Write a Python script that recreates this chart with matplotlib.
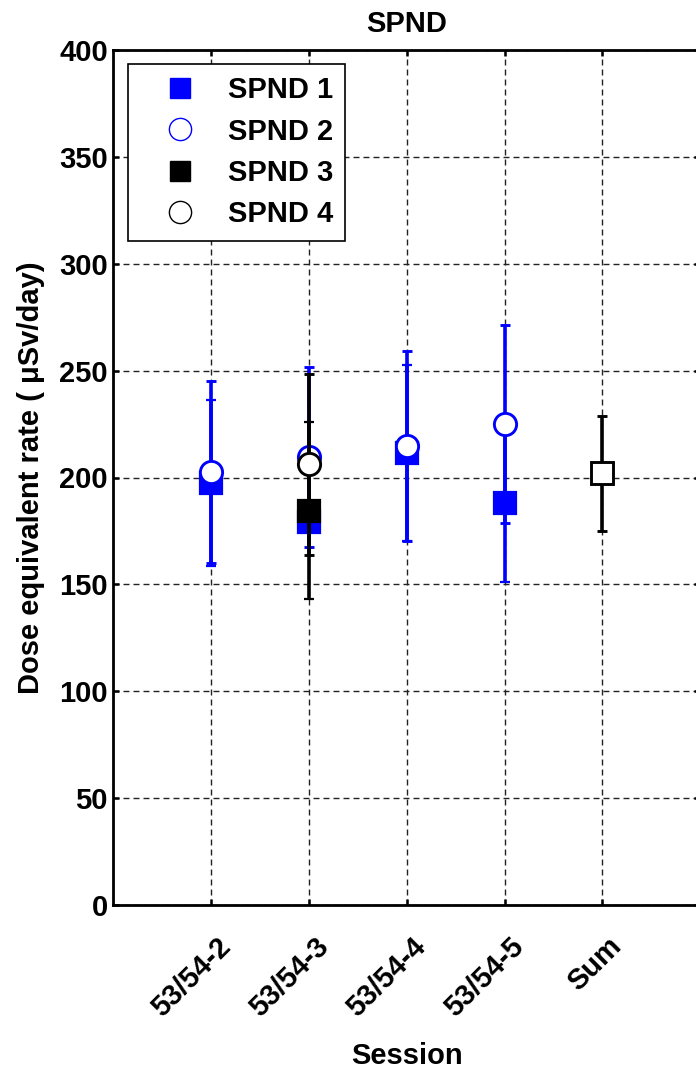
import matplotlib
matplotlib.use("Agg")
import matplotlib.pyplot as plt
from matplotlib.lines import Line2D
from matplotlib.transforms import ScaledTranslation

plt.rcParams['font.family'] = ['Liberation Sans', 'DejaVu Sans']
plt.rcParams['font.weight'] = 'bold'

sessions = ['53/54-2', '53/54-3', '53/54-4', '53/54-5', 'Sum']
x_pos = [1, 2, 3, 4, 5]

spnd1_x = [1, 2, 3, 4]
spnd1_val = [197.5, 179, 211.5, 188]
spnd1_err = [39, 4, 41, 37]

spnd2_x = [1, 2, 3, 4]
spnd2_val = [202.5, 209.5, 214.7, 225]
spnd2_err = [42.5, 42, 44.3, 46.5]

spnd3_x = [2]
spnd3_val = [184.5]
spnd3_err = [41.5]

spnd4_x = [2]
spnd4_val = [206.2]
spnd4_err = [42.3]

sum_x = [5]
sum_val = [202]
sum_err = [27]

W, H = 696, 1071
FS = 21
fig = plt.figure(figsize=(W / 100, H / 100), dpi=100)
ax_left, ax_right = 113.5, 700.0
ax_top, ax_bot = 50.3, 904.7
ax = fig.add_axes([ax_left / W, 1 - ax_bot / H, (ax_right - ax_left) / W, (ax_bot - ax_top) / H])

lw = 2.6
ms = 16
mew = 1.6
cap = 3.5

ax.errorbar(spnd1_x, spnd1_val, yerr=spnd1_err, fmt='s', color='blue', ms=ms, mfc='blue',
            mec='blue', mew=mew, elinewidth=lw, capsize=cap, capthick=lw, zorder=3)
ax.errorbar(spnd2_x, spnd2_val, yerr=spnd2_err, fmt='o', color='blue', ms=ms, mfc='white',
            mec='blue', mew=mew * 1.3, elinewidth=lw, capsize=cap, capthick=lw, zorder=4)
ax.errorbar(spnd3_x, spnd3_val, yerr=spnd3_err, fmt='s', color='black', ms=ms, mfc='black',
            mec='black', mew=mew, elinewidth=lw, capsize=cap, capthick=lw, zorder=5)
ax.errorbar(spnd4_x, spnd4_val, yerr=spnd4_err, fmt='o', color='black', ms=ms, mfc='white',
            mec='black', mew=mew * 1.3, elinewidth=lw, capsize=cap, capthick=lw, zorder=6)
ax.errorbar(sum_x, sum_val, yerr=sum_err, fmt='s', color='black', ms=ms, mfc='white',
            mec='black', mew=mew * 1.3, elinewidth=lw, capsize=cap, capthick=lw, zorder=7)

ax.set_xlim(0, 6)
ax.set_ylim(0, 400)
ax.set_yticks(range(0, 401, 50))
ax.set_xticks(x_pos)
ax.set_xticklabels(sessions, rotation=45, ha='right', va='center', rotation_mode='anchor')

ax.grid(True, color='#222222', linestyle=(0, (4.3, 2.9)), linewidth=1.0)
ax.set_axisbelow(True)

for s in ax.spines.values():
    s.set_linewidth(2.0)
ax.tick_params(direction='in', length=4, width=1.8, top=True, right=True,
               labelsize=FS, pad=4)
ax.tick_params(axis='x', pad=27)
for lab in ax.get_xticklabels():
    lab.set_fontweight('bold')
    lab.set_transform(lab.get_transform() + ScaledTranslation(15 / 100, 0, fig.dpi_scale_trans))
for lab in ax.get_yticklabels():
    lab.set_fontweight('bold')

ax.set_title('SPND', fontsize=FS, fontweight='bold', pad=13)
ax.set_xlabel('Session', fontsize=FS, fontweight='bold', labelpad=14)
ax.set_ylabel('Dose equivalent rate ( μSv/day)', fontsize=FS, fontweight='bold', labelpad=10)

handles = [
    Line2D([], [], linestyle='none', marker='s', ms=15, mfc='blue', mec='blue', mew=1),
    Line2D([], [], linestyle='none', marker='o', ms=16, mfc='white', mec='blue', mew=1),
    Line2D([], [], linestyle='none', marker='s', ms=15, mfc='black', mec='black', mew=1),
    Line2D([], [], linestyle='none', marker='o', ms=16, mfc='white', mec='black', mew=1),
]
leg = ax.legend(handles, ['SPND 1', 'SPND 2', 'SPND 3', 'SPND 4'],
                loc='upper left', bbox_to_anchor=(0.0247, 0.984), borderaxespad=0,
                prop={'weight': 'bold', 'size': FS}, frameon=True, fancybox=False,
                framealpha=1, edgecolor='black', handlelength=2.75, handletextpad=0.25,
                borderpad=0.42, labelspacing=0.46)
leg.get_frame().set_linewidth(1.2)

fig.savefig('out.png', dpi=100)
